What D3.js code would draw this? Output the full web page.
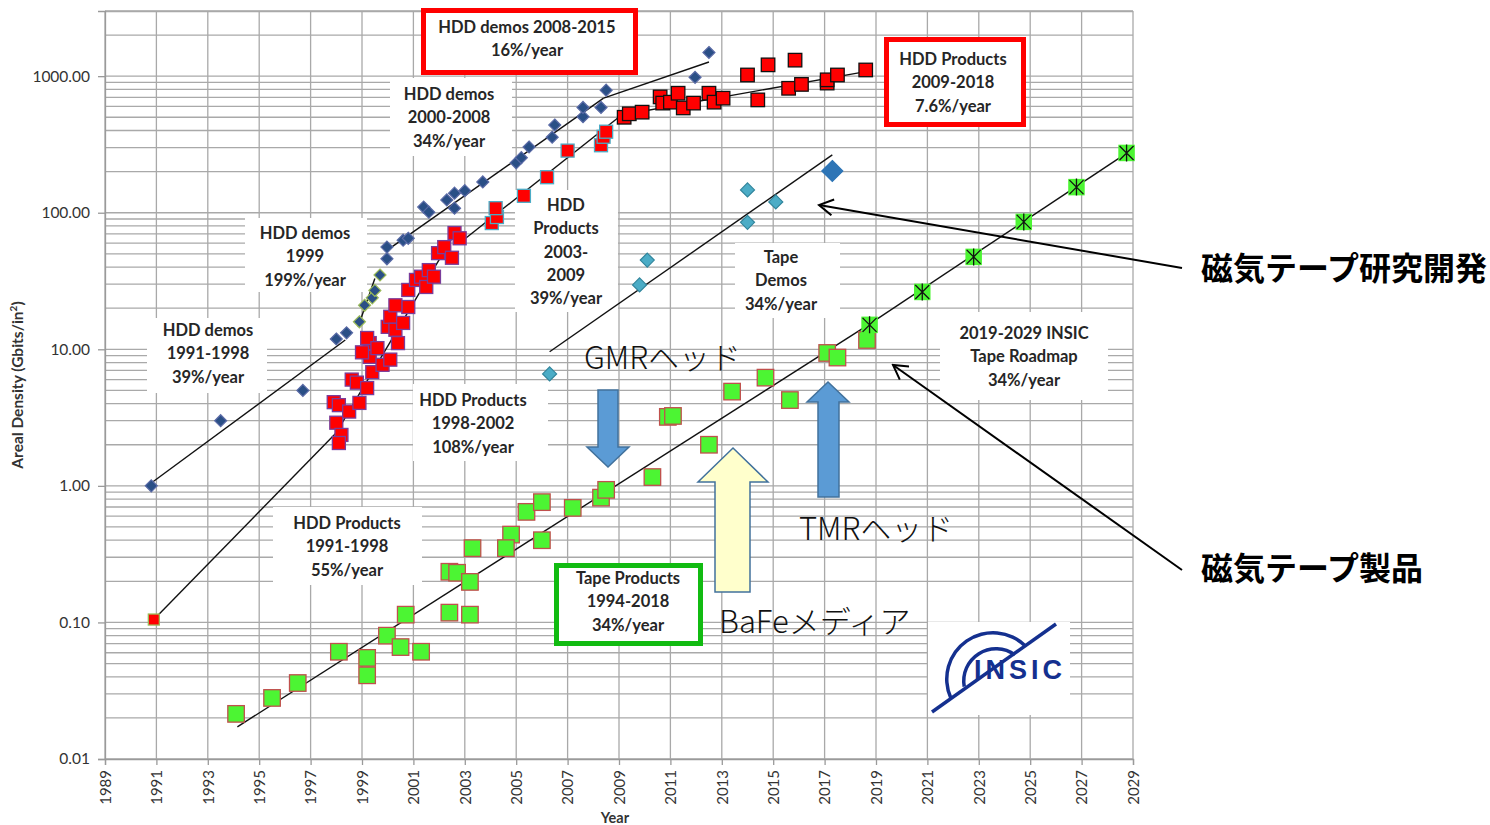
<!DOCTYPE html>
<html>
<head>
<meta charset="utf-8">
<script src="https://cdn.jsdelivr.net/npm/d3@7"></script>
<style>
  body { margin: 0; background: #fff; }
  svg { display: block; }
</style>
</head>
<body>
<div id="chart"></div>
<script>
// ---- data (year, Gbit/in2) ----

const yearTicks = d3.range(1989, 2030, 2)
const densityTicks = [0.01, 0.1, 1, 10, 100, 1000]

const hddDemos = [
  [1990.8, 1.0], [1993.5, 3.0], [1996.7, 5.0], [1998.0, 11.9], [1998.4, 13.2],
  [1999.97, 46], [1999.97, 56], [2000.6, 63], [2000.8, 65], [2001.4, 110], [2001.6, 101],
  [2002.3, 124], [2002.6, 139], [2002.6, 108], [2003.0, 145], [2003.7, 168],
  [2005.0, 232], [2005.2, 253], [2005.5, 303], [2006.4, 357], [2006.5, 439],
  [2007.6, 505], [2007.6, 590], [2008.3, 590], [2008.5, 790], [2011.96, 980], [2012.5, 1490]
]
const hddDemos1999 = [[1998.9, 15.9], [1999.1, 21], [1999.4, 23.8], [1999.5, 27], [1999.7, 35]]

const hddProducts91 = [[1990.9, 0.105]]
const hddProducts98 = [
  [1997.9, 4.1], [1998.1, 3.9], [1998.0, 2.9], [1998.2, 2.36], [1998.1, 2.06], [1998.5, 3.5],
  [1998.6, 6.0], [1998.8, 5.7], [1998.9, 4.05], [1999.2, 5.2], [1999.3, 11.1], [1999.3, 8.8],
  [1999.2, 12.1], [1999.4, 6.8], [1999.8, 7.7], [2000.1, 8.4], [2000.0, 14.6], [2000.1, 17.3],
  [2000.3, 13.9], [2000.4, 11.1], [2000.6, 15.6], [2000.8, 27.2], [2000.8, 20.4], [2001.1, 32.2],
  [2001.3, 34], [2001.5, 28.6], [2001.6, 38], [2001.8, 34], [2001.96, 50.6], [2002.2, 56],
  [2002.5, 46.8], [2002.6, 71], [2002.8, 65], [1999.0, 9.5], [1999.6, 10.2], [2000.3, 21]
]
const hddProducts03 = [
  [2004.05, 84], [2004.25, 93], [2004.2, 108], [2005.3, 133], [2006.2, 182], [2007.0, 285],
  [2008.3, 312], [2008.4, 360], [2008.5, 392]
]
const hddProducts09 = [
  [2009.2, 500], [2009.4, 530], [2009.9, 545], [2010.6, 705], [2010.7, 635], [2011.0, 645],
  [2011.3, 750], [2011.5, 585], [2011.9, 635], [2012.5, 750], [2012.7, 645], [2013.05, 690],
  [2014.0, 1020], [2014.4, 670], [2014.8, 1210], [2015.85, 1310], [2015.6, 815], [2016.1, 870],
  [2017.1, 890], [2017.1, 940], [2017.5, 1020], [2018.6, 1110]
]

const tapeDemos = [[2006.3, 6.6], [2009.8, 29.6], [2010.1, 45], [2014.0, 147], [2014.0, 85], [2015.1, 120]]
const tapeDemoLatest = [[2017.3, 202]]

const tapeProducts = [
  [1994.1, 0.0214], [1995.5, 0.028], [1996.5, 0.036], [1998.1, 0.061], [1999.2, 0.055],
  [1999.2, 0.041], [1999.97, 0.080], [2000.5, 0.066], [2000.7, 0.114], [2001.3, 0.061],
  [2002.4, 0.235], [2002.7, 0.231], [2003.2, 0.198], [2002.4, 0.118], [2003.2, 0.114],
  [2003.3, 0.35], [2004.8, 0.44], [2004.6, 0.35], [2006.0, 0.40], [2005.4, 0.645],
  [2006.0, 0.76], [2007.2, 0.69], [2008.3, 0.82], [2008.5, 0.935], [2010.3, 1.16],
  [2010.9, 3.2], [2011.1, 3.25], [2012.5, 2.0], [2013.4, 4.9], [2014.7, 6.2], [2015.65, 4.25],
  [2017.1, 9.4], [2017.5, 8.7], [2018.65, 11.7]
]
const tapeRoadmap = [[2018.75, 15.1], [2020.8, 26.3], [2022.8, 47.5], [2024.75, 85.7], [2026.8, 154], [2028.75, 274]]

const trendLines = [
  [[1990.8, 1.05], [1998.35, 11.7]],
  [[1998.85, 14.6], [1999.5, 33]],
  [[1999.97, 53], [2008.4, 690]],
  [[2008.4, 690], [2012.5, 1270]],
  [[1990.9, 0.105], [1998.0, 2.45]],
  [[1998.0, 2.45], [2002.6, 70]],
  [[2002.8, 60], [2009.1, 520]],
  [[2009.1, 520], [2018.6, 1080]],
  [[2006.3, 9.6], [2017.3, 265]],
  [[1994.15, 0.0172], [2018.7, 15.1]],
  [[2018.7, 15.1], [2028.9, 285]]
]

const trendLabels = [
  ["HDD demos 2008-2015", "16%/year"],
  ["HDD Products", "2009-2018", "7.6%/year"],
  ["HDD demos", "2000-2008", "34%/year"],
  ["HDD demos", "1999", "199%/year"],
  ["HDD demos", "1991-1998", "39%/year"],
  ["HDD", "Products", "2003-", "2009", "39%/year"],
  ["Tape", "Demos", "34%/year"],
  ["HDD Products", "1998-2002", "108%/year"],
  ["HDD Products", "1991-1998", "55%/year"],
  ["Tape Products", "1994-2018", "34%/year"],
  ["2019-2029 INSIC", "Tape Roadmap", "34%/year"]
]

// ---- dimensions ----

let dimensions = {
  width: 1490,
  height: 825,
  margin: { top: 11, right: 357, bottom: 66, left: 105 }
}
dimensions.boundedWidth = dimensions.width - dimensions.margin.left - dimensions.margin.right
dimensions.boundedHeight = dimensions.height - dimensions.margin.top - dimensions.margin.bottom

const wrapper = d3.select("#chart")
  .append("svg")
  .attr("width", dimensions.width)
  .attr("height", dimensions.height)
  .style("font-family", "Lato, 'Open Sans', sans-serif")

wrapper.append("rect").attr("width", dimensions.width).attr("height", dimensions.height).attr("fill", "#fff")

const bounds = wrapper.append("g")
  .attr("transform", `translate(${dimensions.margin.left},${dimensions.margin.top})`)

const xScale = d3.scaleLinear()
  .domain([1989, 2029])
  .range([0, dimensions.boundedWidth])

const yScale = d3.scaleLog()
  .domain([0.01, 3000])
  .range([dimensions.boundedHeight, 0])

// ---- grid ----
const grid = bounds.append("g").attr("stroke", "#a9a9a9").attr("stroke-width", 1.3)

grid.selectAll(".hgrid")
  .data(yScale.ticks())
  .join("line")
  .attr("x1", 0).attr("x2", dimensions.boundedWidth)
  .attr("y1", d => yScale(d)).attr("y2", d => yScale(d))

grid.selectAll(".vgrid")
  .data(yearTicks)
  .join("line")
  .attr("x1", d => xScale(d)).attr("x2", d => xScale(d))
  .attr("y1", 0).attr("y2", dimensions.boundedHeight)

grid.append("line")
  .attr("x1", 0).attr("x2", dimensions.boundedWidth)
  .attr("y1", 0.5).attr("y2", 0.5)

// ---- axes ----
const yAxisGenerator = d3.axisLeft(yScale)
  .tickValues(densityTicks)
  .tickFormat(d3.format(".2f"))
  .tickSize(7)
  .tickPadding(8)

const yAxis = bounds.append("g").call(yAxisGenerator)
yAxis.select(".domain").attr("stroke", "#9a9a9a").attr("stroke-width", 1.3)
yAxis.selectAll(".tick line").attr("stroke", "#9a9a9a").attr("stroke-width", 1.3)
yAxis.selectAll("text").attr("font-size", 15.5).attr("fill", "#333").attr("font-family", "Lato, sans-serif")

const xAxisGenerator = d3.axisBottom(xScale)
  .tickValues(yearTicks)
  .tickFormat(d3.format("d"))
  .tickSize(6)

const xAxis = bounds.append("g")
  .attr("transform", `translate(0,${dimensions.boundedHeight})`)
  .call(xAxisGenerator)
xAxis.select(".domain").attr("stroke", "#9a9a9a").attr("stroke-width", 1.3)
xAxis.selectAll(".tick line").attr("stroke", "#9a9a9a").attr("stroke-width", 1.3)
xAxis.selectAll("text")
  .attr("transform", "rotate(-90)")
  .attr("text-anchor", "end")
  .attr("x", -11)
  .attr("y", 0)
  .attr("dy", "0.35em")
  .attr("font-size", 15)
  .attr("fill", "#333")
  .attr("font-family", "Lato, sans-serif")

const yTitle = wrapper.append("text")
  .attr("transform", "translate(23,385) rotate(-90)")
  .attr("text-anchor", "middle")
  .attr("font-size", 15.5)
  .attr("font-weight", 700)
  .attr("fill", "#333")
yTitle.append("tspan").text("Areal Density (Gbits/in")
yTitle.append("tspan").attr("font-size", 10).attr("dy", -6).text("2")
yTitle.append("tspan").attr("dy", 6).text(")")

wrapper.append("text")
  .attr("x", 615).attr("y", 823)
  .attr("text-anchor", "middle")
  .attr("font-size", 14.5)
  .attr("font-weight", 700)
  .attr("fill", "#333")
  .text("Year")

// ---- label boxes (white patches over the grid) ----
// x, y, w, h, border colour, text centre x, first line y
const boxSpecs = [
  [421, 8, 217, 67, "#ff0000", 527, 33],
  [884, 37, 142, 90, "#ff0000", 953, 65],
  [390, 78, 122, 78, null, 449, 100],
  [245, 218, 122, 74, null, 305, 239],
  [147, 318, 120, 75, null, 208, 336],
  [515, 190, 103, 122, null, 566, 211],
  [735, 243, 105, 75, null, 781, 263],
  [413, 384, 135, 77, null, 473, 406],
  [273, 507, 149, 78, null, 347, 529],
  [554, 563, 149, 83, "#11bb11", 628, 584],
  [940, 312, 168, 88, null, 1024, 339]
]

const boxLayer = wrapper.append("g")
boxSpecs.forEach((b, i) => {
  const [bx, by, bw, bh, border, cx, ty] = b
  boxLayer.append("rect")
    .attr("x", border ? bx + 2.5 : bx).attr("y", border ? by + 2.5 : by)
    .attr("width", border ? bw - 5 : bw).attr("height", border ? bh - 5 : bh)
    .attr("fill", "#fff")
    .attr("stroke", border || "none")
    .attr("stroke-width", 5)
  const t = boxLayer.append("text")
    .attr("text-anchor", "middle")
    .attr("font-size", 16.5)
    .attr("font-weight", 700)
    .attr("fill", "#262626")
  trendLabels[i].forEach((line, j) => {
    t.append("tspan").attr("x", cx).attr("y", ty + j * 23.3).text(line)
  })
})

// INSIC logo patch
const logo = wrapper.append("g")
logo.append("rect").attr("x", 928).attr("y", 622).attr("width", 142).attr("height", 93).attr("fill", "#fff")

// ---- trend lines ----
const marks = wrapper.append("g")
  .attr("transform", `translate(${dimensions.margin.left},${dimensions.margin.top})`)

const lineGenerator = d3.line()
  .x(d => xScale(d[0]))
  .y(d => yScale(d[1]))

marks.selectAll(".trend")
  .data(trendLines)
  .join("path")
  .attr("d", lineGenerator)
  .attr("fill", "none")
  .attr("stroke", "#111")
  .attr("stroke-width", 1.4)

// ---- markers ----
const diamond = s => `M0,${-s}L${s},0L0,${s}L${-s},0Z`

function drawDiamonds(data, size, fill, stroke) {
  marks.append("g").selectAll("path")
    .data(data)
    .join("path")
    .attr("transform", d => `translate(${xScale(d[0])},${yScale(d[1])})`)
    .attr("d", diamond(size))
    .attr("fill", fill)
    .attr("stroke", stroke)
    .attr("stroke-width", 1.2)
}

function drawSquares(data, size, fill, stroke) {
  marks.append("g").selectAll("rect")
    .data(data)
    .join("rect")
    .attr("x", d => xScale(d[0]) - size / 2)
    .attr("y", d => yScale(d[1]) - size / 2)
    .attr("width", size)
    .attr("height", size)
    .attr("fill", fill)
    .attr("stroke", stroke)
    .attr("stroke-width", 1.3)
}

drawSquares(tapeProducts, 16.5, "#4cf533", "#c0504d")
drawSquares(tapeRoadmap, 16.5, "#4cf533", "none")

marks.append("g").selectAll("path")
  .data(tapeRoadmap)
  .join("path")
  .attr("transform", d => `translate(${xScale(d[0])},${yScale(d[1])})`)
  .attr("d", "M-7,-7L7,7M-7,7L7,-7M0,-8.5L0,8.5")
  .attr("stroke", "#111")
  .attr("stroke-width", 1.3)

drawSquares(hddProducts98, 13, "#ff0000", "#7a3c9a")
drawSquares(hddProducts03, 13, "#ff0000", "#4bacc6")
drawSquares(hddProducts09, 13.5, "#ff0000", "#111")
drawSquares(hddProducts91, 11, "#ff0000", "#9bbb59")

drawDiamonds(hddDemos, 6, "#2a4f86", "#5a6aa6")
drawDiamonds(hddDemos1999, 6, "#2a4f86", "#9bbb59")
drawDiamonds(tapeDemos, 7, "#4bacc6", "#31859c")
drawDiamonds(tapeDemoLatest, 10.5, "#2e75b6", "#2e75b6")

// ---- INSIC logo ----
const navy = "#14308f"
logo.raise()
logo.append("line")
  .attr("x1", 932).attr("y1", 712).attr("x2", 1056).attr("y2", 624)
  .attr("stroke", navy).attr("stroke-width", 3.5)
const arc = d3.arc()
logo.append("path")
  .attr("transform", "translate(993,679)")
  .attr("d", arc({ innerRadius: 44.5, outerRadius: 48, startAngle: -114 * Math.PI / 180, endAngle: 45 * Math.PI / 180 }))
  .attr("fill", navy)
logo.append("path")
  .attr("transform", "translate(996,681)")
  .attr("d", arc({ innerRadius: 30.5, outerRadius: 34, startAngle: -100 * Math.PI / 180, endAngle: 36 * Math.PI / 180 }))
  .attr("fill", navy)
logo.append("text")
  .attr("x", 974).attr("y", 679)
  .attr("font-family", "'Liberation Sans', Arial, sans-serif")
  .attr("font-weight", 700)
  .attr("font-size", 27)
  .attr("letter-spacing", 4)
  .attr("fill", navy)
  .text("INSIC")

// ---- block arrows ----
const annos = wrapper.append("g")
const blockArrows = [
  // GMR (down)
  { pts: [[598, 390], [618, 390], [618, 447], [629, 447], [608, 467], [587, 447], [598, 447]], fill: "#5b9bd5" },
  // BaFe (up)
  { pts: [[715, 592], [750, 592], [750, 482], [768, 482], [733, 448], [698, 482], [715, 482]], fill: "#ffffcc" },
  // TMR (up)
  { pts: [[818, 497], [839, 497], [839, 402], [849, 402], [828, 382], [807, 402], [818, 402]], fill: "#5b9bd5" }
]
annos.selectAll(".block")
  .data(blockArrows)
  .join("path")
  .attr("d", d => "M" + d.pts.join("L") + "Z")
  .attr("fill", d => d.fill)
  .attr("stroke", "#41719c")
  .attr("stroke-width", 1.5)

const jpFont = "'Noto Sans CJK JP', 'Noto Sans', sans-serif"
const jpLabels = [
  ["GMRヘッド", 584, 369],
  ["TMRヘッド", 799, 540],
  ["BaFeメディア", 719, 633]
]
annos.selectAll(".jp")
  .data(jpLabels)
  .join("text")
  .attr("x", d => d[1]).attr("y", d => d[2])
  .attr("font-family", jpFont)
  .attr("font-weight", 300)
  .attr("font-size", 31)
  .attr("fill", "#111")
  .text(d => d[0])

// pointer lines
wrapper.append("defs").append("marker")
  .attr("id", "openhead")
  .attr("viewBox", "-16 -9 18 18")
  .attr("markerWidth", 18).attr("markerHeight", 18)
  .attr("markerUnits", "userSpaceOnUse")
  .attr("orient", "auto")
  .append("path")
  .attr("d", "M-14,-8L0,0L-14,8")
  .attr("fill", "none")
  .attr("stroke", "#000")
  .attr("stroke-width", 2)

const pointers = [
  [[1182, 268], [819, 205]],
  [[1182, 570], [893, 365]]
]
annos.selectAll(".pointer")
  .data(pointers)
  .join("line")
  .attr("x1", d => d[0][0]).attr("y1", d => d[0][1])
  .attr("x2", d => d[1][0]).attr("y2", d => d[1][1])
  .attr("stroke", "#000")
  .attr("stroke-width", 2)
  .attr("marker-end", "url(#openhead)")

const sideLabels = [
  ["磁気テープ研究開発", 1201, 280],
  ["磁気テープ製品", 1201, 580]
]
annos.selectAll(".side")
  .data(sideLabels)
  .join("text")
  .attr("x", d => d[1]).attr("y", d => d[2])
  .attr("font-family", jpFont)
  .attr("font-weight", 700)
  .attr("font-size", 32)
  .attr("fill", "#000")
  .text(d => d[0])
</script>
</body>
</html>
